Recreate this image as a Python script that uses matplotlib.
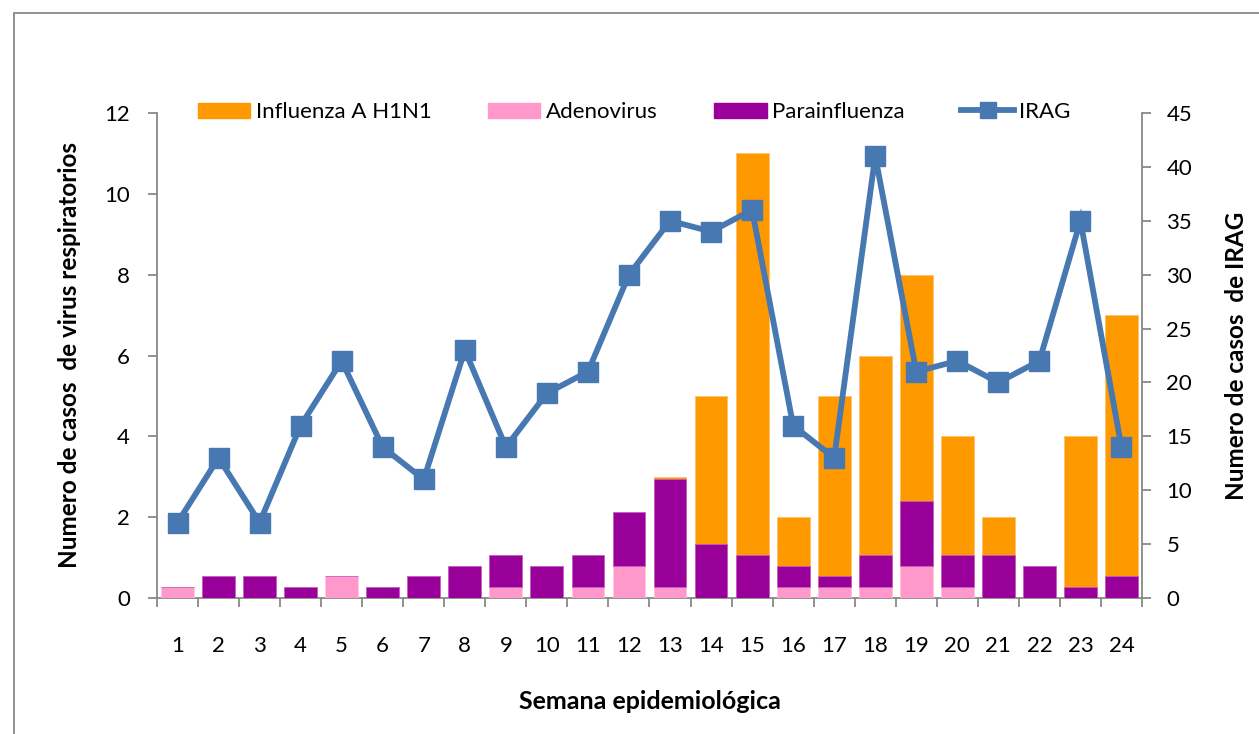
import matplotlib
matplotlib.use("Agg")
import matplotlib.pyplot as plt
from matplotlib.lines import Line2D
from matplotlib.patches import Patch, Rectangle
import numpy as np

plt.rcParams['font.family'] = ['Lato', 'DejaVu Sans']

weeks = [str(i) for i in range(1, 25)]
# Influenza A H1N1 (left axis)
influenza = [0, 0, 0, 0, 0, 0, 0, 0, 0, 0, 0, 0, 3, 5, 11, 2, 5, 6, 8, 4, 2, 0, 4, 7]
# Adenovirus and Parainfluenza (counts drawn on the right axis scale)
adenovirus = [1, 0, 0, 0, 2, 0, 0, 0, 1, 0, 1, 3, 1, 0, 0, 1, 1, 1, 3, 1, 0, 0, 0, 0]
parainfluenza = [0, 2, 2, 1, 0, 1, 2, 3, 3, 3, 3, 5, 10, 5, 4, 2, 1, 3, 6, 3, 4, 3, 1, 2]
# IRAG cases (right axis)
irag = [7, 13, 7, 16, 22, 14, 11, 23, 14, 19, 21, 30, 35, 34, 36, 16, 13, 41, 21, 22, 20, 22, 35, 14]

c_inf = '#FF9900'
c_ade = '#FF99CC'
c_par = '#990099'
c_line = '#4878B2'
c_axis = '#888888'

W, H = 1259, 734
fig = plt.figure(figsize=(W / 100, H / 100), dpi=100)

# chart-area border
fig.patches.append(Rectangle((14 / W, -0.1), 1.2, 1 - 13 / H + 0.1, transform=fig.transFigure,
                             fill=False, edgecolor=c_axis, linewidth=1.3))

ax1 = fig.add_axes([157 / W, 1 - 598 / H, (1142 - 157) / W, (598 - 113) / H])
ax2 = ax1.twinx()

x = np.arange(1, 25)
bw = 0.8
ax1.bar(x, influenza, width=bw, color=c_inf, edgecolor='#FFC070', linewidth=0.6)
ax2.bar(x, adenovirus, width=bw, color=c_ade, edgecolor='#FFC8E0', linewidth=0.6)
ax2.bar(x, parainfluenza, width=bw, bottom=adenovirus, color=c_par, edgecolor='#C060C0', linewidth=0.6)
ax2.plot(x, irag, color=c_line, linewidth=4.2, marker='s', markersize=15,
         markerfacecolor=c_line, markeredgecolor=c_line, solid_joinstyle='miter')

ax1.set_xlim(0.5, 24.5)
ax1.set_ylim(0, 12)
ax2.set_ylim(0, 45)
ax1.set_yticks(range(0, 13, 2))
ax2.set_yticks(range(0, 46, 5))
ax1.set_xticks(x)
ax1.set_xticklabels(weeks)
ax1.set_xticks(np.arange(0.5, 25, 1), minor=True)
ax1.tick_params(axis='x', which='major', length=0, pad=27, labelsize=16)
ax1.tick_params(axis='x', which='minor', length=6.5, width=1.3, color=c_axis, direction='out')
ax1.tick_params(axis='y', length=6.5, width=1.3, color=c_axis, direction='out', labelsize=16, pad=13)
ax2.tick_params(axis='y', length=6.5, width=1.3, color=c_axis, direction='out', labelsize=16, pad=11)

for ax in (ax1, ax2):
    ax.spines['top'].set_visible(False)
    for s in ('left', 'right', 'bottom'):
        ax.spines[s].set_color(c_axis)
        ax.spines[s].set_linewidth(1.3)
ax1.spines['right'].set_visible(False)
ax2.spines['left'].set_visible(False)
ax2.spines['bottom'].set_visible(False)

ax1.set_xlabel('Semana epidemiológica', fontsize=18, fontweight='bold', labelpad=25)
ax1.set_ylabel('Numero de casos  de virus respiratorios', fontsize=17.5, fontweight='bold', labelpad=17)
ax2.set_ylabel('Numero de casos  de IRAG', fontsize=17.5, fontweight='bold', labelpad=24)

handles = [Patch(color=c_inf), Patch(color=c_ade), Patch(color=c_par),
           Line2D([0], [0], color=c_line, linewidth=4.2, marker='s', markersize=12)]
labels = ['Influenza A H1N1', 'Adenovirus', 'Parainfluenza', 'IRAG']
fig.legend(handles, labels, loc='center left', bbox_to_anchor=(198 / W, 1 - 112 / H), ncol=4,
           frameon=False, fontsize=16, handlelength=2.35, handleheight=0.68, columnspacing=2.55,
           handletextpad=0.25, borderpad=0, borderaxespad=0)

fig.savefig('out.png', dpi=100)
